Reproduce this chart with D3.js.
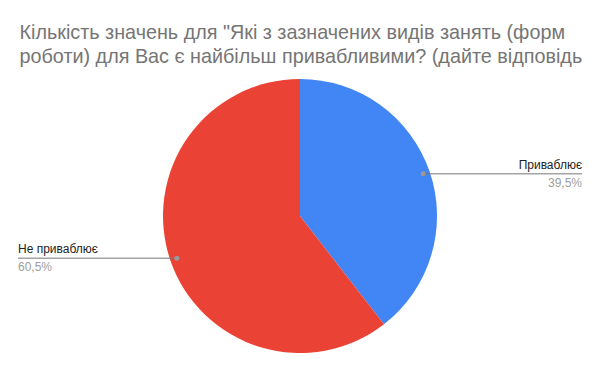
<!DOCTYPE html>
<html><head><meta charset="utf-8">
<script src="https://cdn.jsdelivr.net/npm/d3@7"></script>
<style>body{margin:0;background:#fff}svg{display:block}</style>
</head><body>
<svg id="c" width="600" height="371"></svg>
<script>
const titleLines = ["Кількість значень для \"Які з зазначених видів занять (форм", "роботи) для Вас є найбільш привабливими? (дайте відповідь"];
const categories = ["Приваблює", "Не приваблює"];
const values = [39.5, 60.5];
const labels = ["39,5%", "60,5%"];
const colors = ["#4285f4", "#ea4335"];

const FONT = "'Liberation Sans', Arial, sans-serif";
const svg = d3.select("#c");
svg.append("rect").attr("width",600).attr("height",371).attr("fill","#fff");
const t = svg.append("text").attr("font-family",FONT)
  .attr("font-size",19.8).attr("fill","#757575");
titleLines.forEach((l,i)=>t.append("tspan").attr("x",19.5).attr("y",39+i*24).text(l));

const cx=300, cy=216, r=137;
const pie = d3.pie().sort(null).value(d=>d)(values);
const arc = d3.arc().innerRadius(0).outerRadius(r);
const g = svg.append("g").attr("transform",`translate(${cx},${cy})`);
g.selectAll("path").data(pie).join("path").attr("d",arc).attr("fill",(d,i)=>colors[i]);

const dotArc = d3.arc().innerRadius(r*0.95).outerRadius(r*0.95);
pie.forEach((d,i)=>{
  const [px,py] = dotArc.centroid(d);
  const x=cx+px, y=cy+py;
  const right = px>0;
  const x2 = right ? 582 : 18;
  svg.append("line").attr("x1",x).attr("y1",y).attr("x2",x2).attr("y2",y)
    .attr("stroke","#777").attr("stroke-width",1);
  svg.append("circle").attr("cx",x).attr("cy",y).attr("r",2.5).attr("fill","#999");
  svg.append("text").attr("x",x2).attr("y",y-5).attr("text-anchor",right?"end":"start")
    .attr("font-family",FONT).attr("font-size",12).attr("fill","#222")
    .text(categories[i]);
  svg.append("text").attr("x",x2).attr("y",y+13).attr("text-anchor",right?"end":"start")
    .attr("font-family",FONT).attr("font-size",12).attr("fill","#9e9e9e")
    .text(labels[i]);
});
</script>
</body></html>
